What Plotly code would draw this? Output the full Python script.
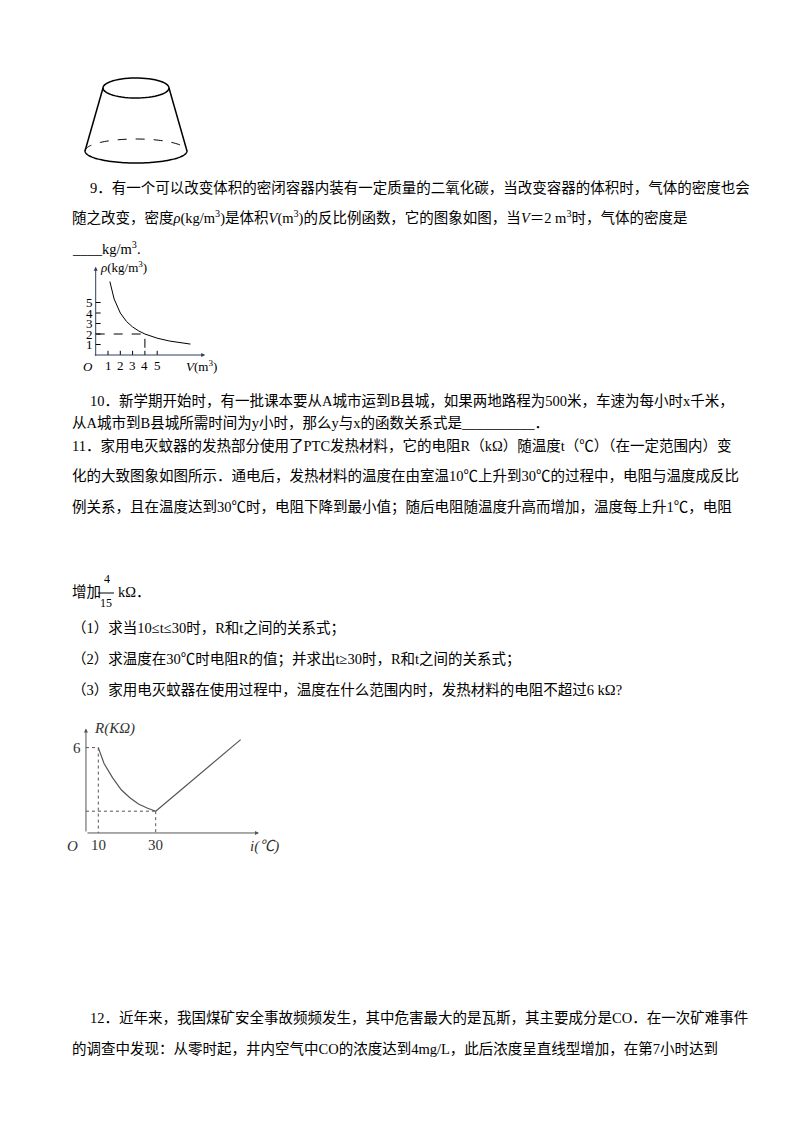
import numpy as np
import plotly.graph_objects as go

W, H = 800, 1132
# ---- data ----
V_vals = [1.15, 1.5, 2, 2.5, 3, 3.5, 4, 5, 6, 7, 7.7]
rho_vals = [7, 5.33, 4, 3.2, 2.67, 2.29, 2, 1.6, 1.33, 1.14, 1.04]
V_ticks = [1, 2, 3, 4, 5]
rho_ticks = [1, 2, 3, 4, 5]
t_curve = [10, 12, 15, 18, 21, 24, 27, 30]
R_curve = [6, 5.0, 4.1, 3.35, 2.85, 2.45, 2.2, 2.0]
t_line = [30, 59.6]
R_line = [2.0, 6.5]

def px(x): return x / W
def py(y): return 1 - y / H

fig = go.Figure()
FONT = "Liberation Serif, Noto Sans CJK SC"
ann = []
shapes = []

# ---- frustum (decoration) ----
def ellipse_pts(cx, cy, rx, ry, a0, a1, n=60):
    a = np.linspace(a0, a1, n)
    return [(cx + rx*np.cos(t), cy + ry*np.sin(t)) for t in a]
def path_of(pts):
    return "M " + " L ".join(f"{px(x):.5f},{py(y):.5f}" for x, y in pts)
shapes.append(dict(type="path", xref="paper", yref="paper", path=path_of(ellipse_pts(128, 80, 33, 10, 0, 2*np.pi)) + " Z", line=dict(color="black", width=1.5)))
shapes.append(dict(type="path", xref="paper", yref="paper", path=path_of(ellipse_pts(128, 143, 51, 12, 0, np.pi)), line=dict(color="black", width=1.5)))
shapes.append(dict(type="path", xref="paper", yref="paper", path=path_of(ellipse_pts(128, 143, 51, 12, np.pi, 2*np.pi)), line=dict(color="black", width=1, dash="dash")))
for (x0, y0, x1, y1) in [(95, 80, 77, 143), (161, 80, 179, 143)]:
    shapes.append(dict(type="line", xref="paper", yref="paper", x0=px(x0), y0=py(y0), x1=px(x1), y1=py(y1), line=dict(color="black", width=1.5)))

# ---- text ----
DY = -7
def txt(x, y, s, size=14.5):
    ann.append(dict(x=px(x), y=py(y + DY), xref="paper", yref="paper", text=s, showarrow=False,
                    xanchor="left", yanchor="middle", font=dict(family=FONT, size=size, color="black")))
txt(80, 187, "9．有一个可以改变体积的密闭容器内装有一定质量的二氧化碳，当改变容器的体积时，气体的密度也会")
txt(62, 217, "随之改变，密度<i>ρ</i>(kg/m<sup>3</sup>)是体积<i>V</i>(m<sup>3</sup>)的反比例函数，它的图象如图，当<i>V</i>＝2 m<sup>3</sup>时，气体的密度是")
txt(62, 247, "____kg/m<sup>3</sup>.")
txt(80, 400, "10．新学期开始时，有一批课本要从A城市运到B县城，如果两地路程为500米，车速为每小时x千米，")
txt(62, 422, "从A城市到B县城所需时间为y小时，那么y与x的函数关系式是__________．")
txt(62, 444, "11．家用电灭蚊器的发热部分使用了PTC发热材料，它的电阻R（kΩ）随温度t（℃）（在一定范围内）变")
txt(62, 475, "化的大致图象如图所示．通电后，发热材料的温度在由室温10℃上升到30℃的过程中，电阻与温度成反比")
txt(62, 506, "例关系，且在温度达到30℃时，电阻下降到最小值；随后电阻随温度升高而增加，温度每上升1℃，电阻")
txt(62, 591, "增加")
txt(94, 578, "4", 12); txt(90, 602, "15", 12)
shapes.append(dict(type="line", xref="paper", yref="paper", x0=px(90), x1=px(106), y0=py(585), y1=py(585), line=dict(color="black", width=1)))
txt(108, 591, "kΩ．")
txt(62, 627, "（1）求当10≤t≤30时，R和t之间的关系式；")
txt(62, 658, "（2）求温度在30℃时电阻R的值；并求出t≥30时，R和t之间的关系式；")
txt(62, 689, "（3）家用电灭蚊器在使用过程中，温度在什么范围内时，发热材料的电阻不超过6 kΩ?")
txt(80, 1016, "12．近年来，我国煤矿安全事故频频发生，其中危害最大的是瓦斯，其主要成分是CO．在一次矿难事件")
txt(62, 1047, "的调查中发现：从零时起，井内空气中CO的浓度达到4mg/L，此后浓度呈直线型增加，在第7小时达到")

# ---- chart 1 ----
x1r = [-1.5, 9.5]; y1r = [-1.5, 9]
fig.add_trace(go.Scatter(x=V_vals, y=rho_vals, mode="lines", line=dict(color="black", width=1), xaxis="x", yaxis="y", showlegend=False))
fig.add_trace(go.Scatter(x=[0, 4, 4], y=[2, 2, 0], mode="lines", line=dict(color="black", width=1, dash="dash"), xaxis="x", yaxis="y", showlegend=False))
ax_small = dict(font=dict(family=FONT, size=13, color="black"), showarrow=False)
ann.append(dict(x=8.9, y=0, ax=-0.2, ay=0, xref="x", yref="y", axref="x", ayref="y", showarrow=True, arrowhead=2, arrowsize=0.8, arrowwidth=1, text=""))
ann.append(dict(x=0, y=8.4, ax=0, ay=-0.2, xref="x", yref="y", axref="x", ayref="y", showarrow=True, arrowhead=2, arrowsize=0.8, arrowwidth=1, text=""))
for v in V_ticks:
    ann.append(dict(x=v, y=-0.1, xref="x", yref="y", text=str(v), yanchor="top", **ax_small))
    shapes.append(dict(type="line", xref="x", yref="y", x0=v, x1=v, y0=0, y1=0.4, line=dict(color="black", width=1)))
for r in rho_ticks:
    ann.append(dict(x=-0.05, y=r, xref="x", yref="y", text=str(r), xanchor="right", **ax_small))
    shapes.append(dict(type="line", xref="x", yref="y", x0=0, x1=0.4, y0=r, y1=r, line=dict(color="black", width=1)))
ann.append(dict(x=-0.6, y=-0.2, xref="x", yref="y", text="<i>O</i>", yanchor="top", **ax_small))
ann.append(dict(x=7.2, y=-0.1, xref="x", yref="y", text="<i>V</i>(m<sup>3</sup>)", yanchor="top", xanchor="left", **ax_small))
ann.append(dict(x=0.2, y=8.4, xref="x", yref="y", text="<i>ρ</i>(kg/m<sup>3</sup>)", xanchor="left", **ax_small))

# ---- chart 2 ----
x2r = [-3, 70]; y2r = [-1.5, 7.6]
t_ax = 5.7; R_ax = 0.63
fig.add_trace(go.Scatter(x=t_curve, y=R_curve, mode="lines", line=dict(color="#555", width=1.2), xaxis="x2", yaxis="y2", showlegend=False))
fig.add_trace(go.Scatter(x=t_line, y=R_line, mode="lines", line=dict(color="#555", width=1.2), xaxis="x2", yaxis="y2", showlegend=False))
for (xa, ya, xb, yb) in [(t_ax, 6, 10, 6), (10, 6, 10, R_ax), (t_ax, 2, 30, 2), (30, 2, 30, R_ax)]:
    shapes.append(dict(type="line", xref="x2", yref="y2", x0=xa, y0=ya, x1=xb, y1=yb, line=dict(color="#555", width=1, dash="dot")))
ann.append(dict(x=66, y=R_ax, ax=t_ax, ay=R_ax, xref="x2", yref="y2", axref="x2", ayref="y2", showarrow=True, arrowhead=2, arrowsize=0.8, arrowwidth=1, arrowcolor="#555", text=""))
ann.append(dict(x=t_ax, y=7.2, ax=t_ax, ay=R_ax, xref="x2", yref="y2", axref="x2", ayref="y2", showarrow=True, arrowhead=2, arrowsize=0.8, arrowwidth=1, arrowcolor="#555", text=""))
big = dict(font=dict(family=FONT, size=15, color="#333"), showarrow=False)
ann.append(dict(x=t_ax-1, y=6, xref="x2", yref="y2", text="6", xanchor="right", **big))
ann.append(dict(x=10, y=R_ax-0.1, xref="x2", yref="y2", text="10", yanchor="top", **big))
ann.append(dict(x=30, y=R_ax-0.1, xref="x2", yref="y2", text="30", yanchor="top", **big))
ann.append(dict(x=t_ax-2, y=R_ax-0.2, xref="x2", yref="y2", text="<i>O</i>", xanchor="right", yanchor="top", **big))
ann.append(dict(x=62, y=R_ax-0.2, xref="x2", yref="y2", text="<i>i(℃)</i>", xanchor="left", yanchor="top", **big))
ann.append(dict(x=t_ax+2, y=7.2, xref="x2", yref="y2", text="<i>R(KΩ)</i>", xanchor="left", **big))

def domx(left_px, ppu, rng): return [px(left_px), px(left_px + ppu*(rng[1]-rng[0]))]
def domy(bottom_px, ppu, rng): return [py(bottom_px), py(bottom_px - ppu*(rng[1]-rng[0]))]
hid = dict(visible=False, fixedrange=True)
fig.update_layout(
    width=W, height=H, margin=dict(l=0, r=0, t=0, b=0),
    paper_bgcolor="white", plot_bgcolor="rgba(0,0,0,0)",
    xaxis=dict(domain=domx(87.7-1.5*12.3, 12.3, x1r), range=x1r, **hid),
    yaxis=dict(domain=domy(347+1.5*10.5, 10.5, y1r), range=y1r, **hid),
    xaxis2=dict(domain=domx(61.6-3*2.87, 2.87, x2r), range=x2r, anchor="y2", **hid),
    yaxis2=dict(domain=domy(835+1.5*15.9, 15.9, y2r), range=y2r, anchor="x2", **hid),
    annotations=ann, shapes=shapes,
)
fig.write_html("out.html")
